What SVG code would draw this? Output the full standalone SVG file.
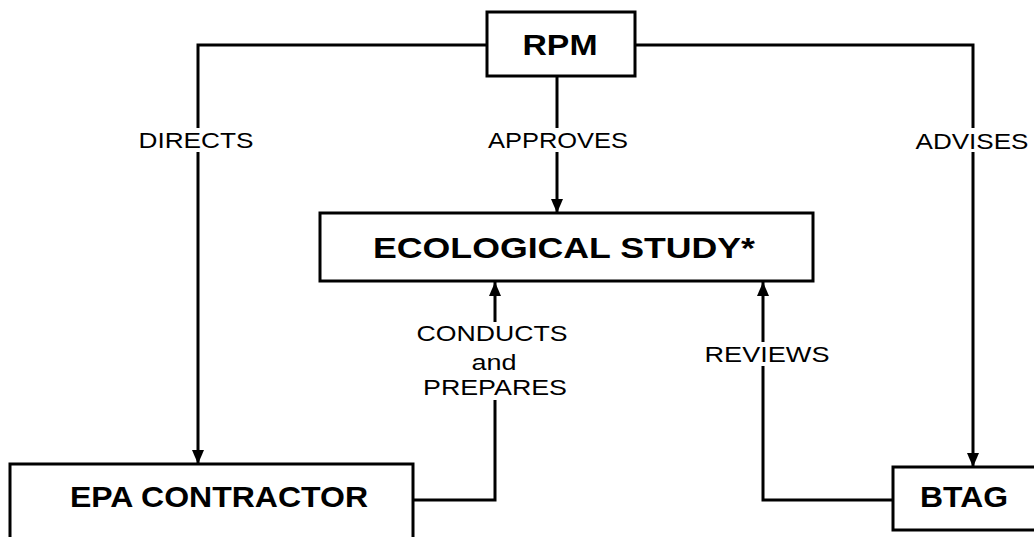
<svg xmlns="http://www.w3.org/2000/svg" width="1034" height="537" viewBox="0 0 1034 537">
<style>
.box{fill:#fff;stroke:#000;stroke-width:3}
.title{font-family:"Liberation Sans",Arial,sans-serif;font-weight:bold;font-size:30px;fill:#000;text-anchor:middle}
.lbl{font-family:"Liberation Sans",Arial,sans-serif;font-size:22px;fill:#000;text-anchor:middle}
.conn{fill:none;stroke:#000;stroke-width:3}
.bg{fill:#fff}
</style>
<defs>
<marker id="ah" viewBox="0 0 14 12" markerWidth="14" markerHeight="12" refX="14" refY="6" orient="auto" markerUnits="userSpaceOnUse">
<path d="M0,0 L14,6 L0,12 z" fill="#000"/>
</marker>
</defs>
<rect width="1034" height="537" fill="#fff"/>
<g id="connectors">
<path class="conn" d="M487,45 H198 V464" marker-end="url(#ah)"/>
<path class="conn" d="M635,45 H973 V467" marker-end="url(#ah)"/>
<path class="conn" d="M557,76 V213" marker-end="url(#ah)"/>
<path class="conn" d="M413,500 H495 V282" marker-end="url(#ah)"/>
<path class="conn" d="M893,500 H763 V282" marker-end="url(#ah)"/>
<rect class="bg" x="136" y="128" width="120" height="24"/>
<text class="lbl" x="196" y="148" textLength="115" lengthAdjust="spacingAndGlyphs">DIRECTS</text>
<rect class="bg" x="485" y="128" width="146" height="24"/>
<text class="lbl" x="558" y="148" textLength="140" lengthAdjust="spacingAndGlyphs">APPROVES</text>
<rect class="bg" x="912" y="128" width="120" height="24"/>
<text class="lbl" x="972" y="149" textLength="113" lengthAdjust="spacingAndGlyphs">ADVISES</text>
<rect class="bg" x="414" y="322" width="158" height="78"/>
<text class="lbl" x="492" y="341" textLength="151" lengthAdjust="spacingAndGlyphs">CONDUCTS</text>
<text class="lbl" x="494" y="370" textLength="45" lengthAdjust="spacingAndGlyphs">and</text>
<text class="lbl" x="495" y="395" textLength="144" lengthAdjust="spacingAndGlyphs">PREPARES</text>
<rect class="bg" x="702" y="342" width="130" height="24"/>
<text class="lbl" x="767" y="362" textLength="125" lengthAdjust="spacingAndGlyphs">REVIEWS</text>
</g>
<g id="rpm">
<rect class="box" x="487" y="12" width="148" height="64"/>
<text class="title" x="560" y="55" textLength="75" lengthAdjust="spacingAndGlyphs">RPM</text>
</g>
<g id="ecological-study">
<rect class="box" x="320" y="213" width="493" height="68"/>
<text class="title" x="564" y="258" font-size="29" textLength="382" lengthAdjust="spacingAndGlyphs">ECOLOGICAL STUDY*</text>
</g>
<g id="epa-contractor">
<rect class="box" x="10" y="464" width="403" height="90" stroke-width="2"/>
<text class="title" x="219" y="507" textLength="298" lengthAdjust="spacingAndGlyphs">EPA CONTRACTOR</text>
</g>
<g id="btag">
<rect class="box" x="893" y="467" width="160" height="63"/>
<text class="title" x="964" y="507" textLength="88" lengthAdjust="spacingAndGlyphs">BTAG</text>
</g>
</svg>
